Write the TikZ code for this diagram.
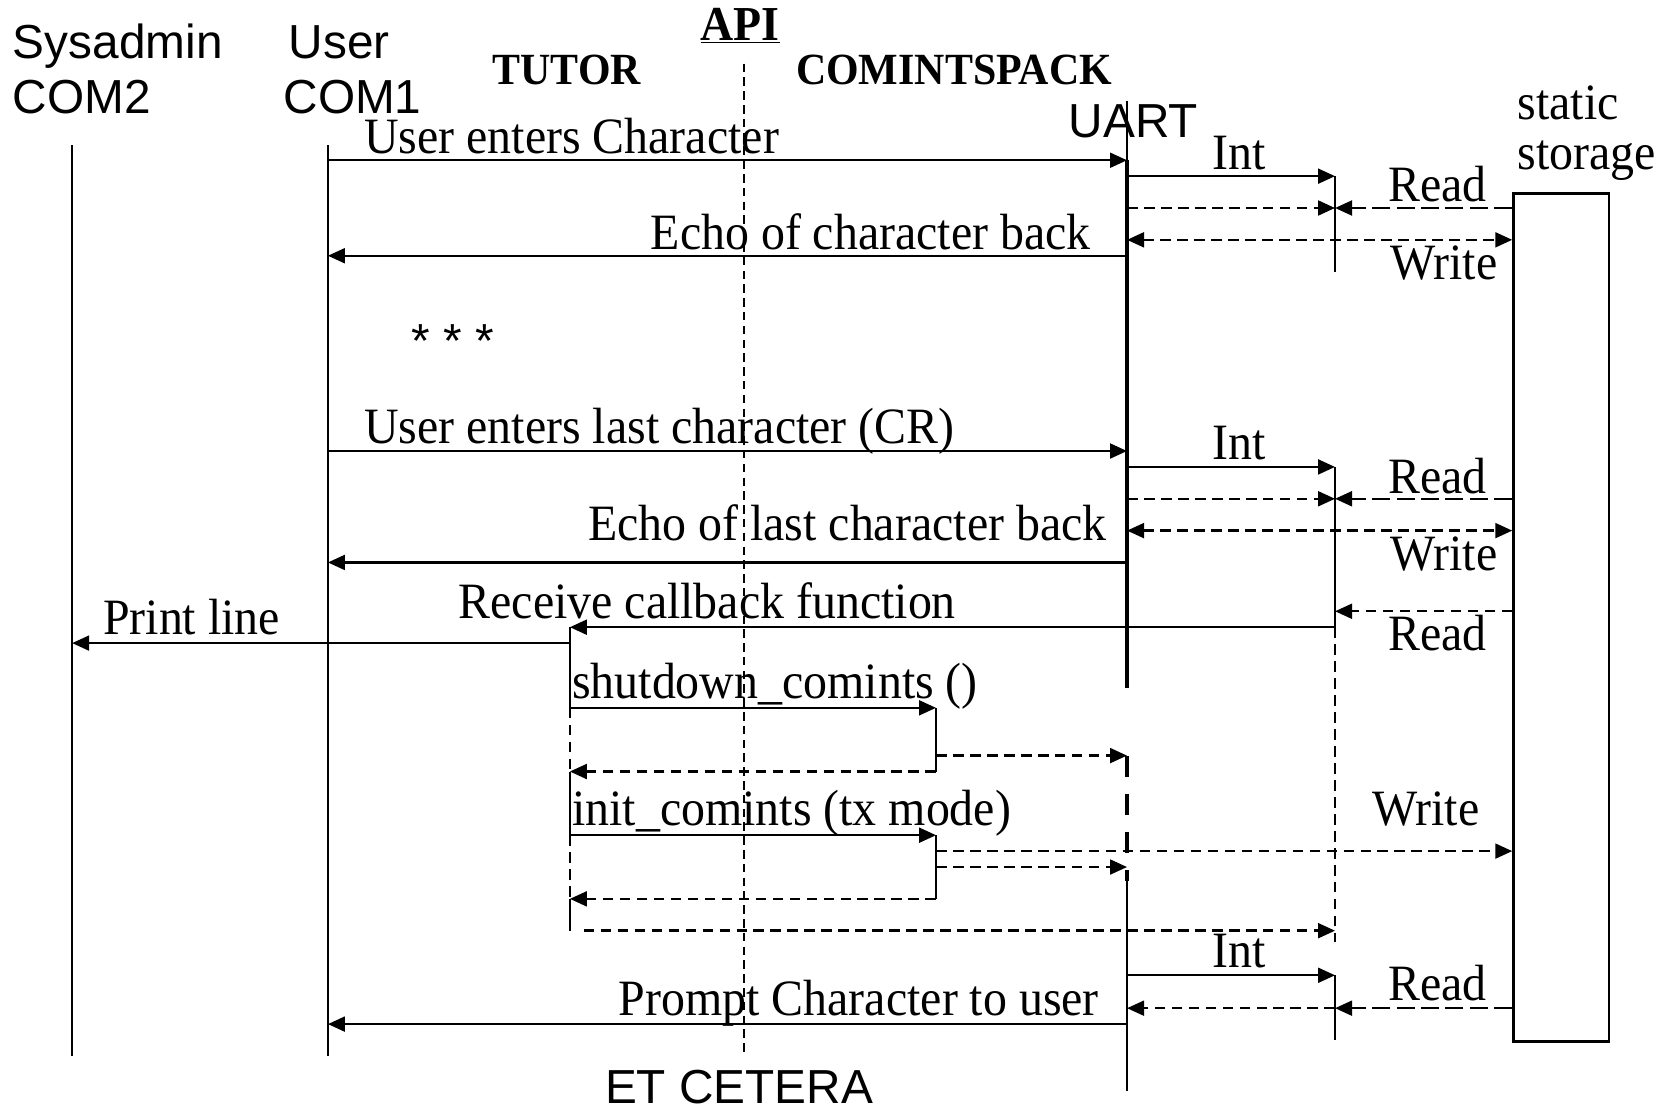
\documentclass[tikz,border=0pt]{standalone}
\usepackage{fontspec}
\setmainfont{Liberation Serif}[FakeStretch=0.94]
\setsansfont{Liberation Sans}
\usetikzlibrary{arrows.meta}

\begin{document}
\begin{tikzpicture}[x=1pt,y=-1pt,
  tip/.style={-{Triangle[length=16pt,width=14pt]}},
  msg/.style={line width=2.3pt,tip},
  ret/.style={msg,dash pattern=on 10pt off 6pt},
  rdl/.style={msg,dash pattern=on 17pt off 6pt},
  both/.style={line width=2.3pt,dash pattern=on 10pt off 6pt,
    {Triangle[length=16pt,width=14pt]}-{Triangle[length=16pt,width=14pt]}},
  life/.style={line width=2pt},
  lifed/.style={line width=2pt,dash pattern=on 10pt off 6pt},
  lbl/.style={font=\fontsize{48}{50}\selectfont,anchor=base west,inner sep=0pt},
  hd/.style={font=\sffamily\fontsize{45}{47}\selectfont,anchor=base west,inner sep=0pt},
  bhd/.style={font=\bfseries\fontsize{42}{44}\selectfont,anchor=base west,inner sep=0pt}]

\useasboundingbox (0,0) rectangle (1568,1051);

% participants
\node[hd] (hsys) at (12,55) {Sysadmin};
\node[hd] (hcom2) at (12,107) {COM2};
\node[hd] (husr) at (272,55) {User};
\node[hd] (hcom1) at (267,107) {COM1};
\node[hd] (huart) at (1007,130) {UART};
\node[bhd,font=\bfseries\fontsize{46}{48}\selectfont] (hapi) at (660,38) {\underline{API}};
\node[bhd] (htut) at (464,80) {TUTOR};
\node[bhd] (hcmp) at (750,80) {COMINTSPACK};
\node[lbl] (hsta) at (1430,113) {static};
\node[lbl] (hsto) at (1430,160) {storage};
\node[hd] (etc) at (570,1040) {ET CETERA};
\node[hd] (dots) at (388,337) {* * *};

% lifeline anchors
\coordinate (sys) at (68,137);
\coordinate (usr) at (309,137);
\coordinate (api) at (701,60);
\coordinate (uart) at (1062,95);
\coordinate (int) at (1258,166);
\coordinate (tut) at (537,591);
\coordinate (cmd) at (882,667);

% static storage
\node[draw,line width=2.4pt,anchor=north west,inner sep=0pt,
      minimum width=90pt,minimum height=799pt] (store) at (1425,181) {};

% lifelines
\draw[life] (sys) -- (sys |- 0,995);
\draw[life] (usr) -- (usr |- 0,995);
\draw[line width=1.6pt,dash pattern=on 8pt off 5pt] (api) -- (api |- 0,993);
\draw[life] (uart) -- (uart |- 0,151);
\draw[line width=4.5pt] (uart |- 0,151) -- (uart |- 0,648);
\draw[line width=4.5pt,dash pattern=on 20pt off 16pt] (uart |- 0,712) -- (uart |- 0,830);
\draw[life] (uart |- 0,830) -- (uart |- 0,1028);
\draw[life] (int) -- (int |- 0,256);
\draw[life] (int |- 0,440) -- (int |- 0,591);
\draw[lifed] (int |- 0,591) -- (int |- 0,888);
\draw[life] (int |- 0,919) -- (int |- 0,980);
\draw[life] (tut) -- (tut |- 0,667);
\draw[lifed] (tut |- 0,667) -- (tut |- 0,727);
\draw[life] (tut |- 0,727) -- (tut |- 0,787);
\draw[lifed] (tut |- 0,787) -- (tut |- 0,847);
\draw[life] (tut |- 0,847) -- (tut |- 0,877);
\draw[life] (cmd) -- (cmd |- 0,727);
\draw[life] (cmd |- 0,787) -- (cmd |- 0,847);

% first character
\draw[msg] (usr |- 0,151) -- (uart |- 0,151);
\node[lbl] at (343,145) {User enters Character};
\draw[msg] (uart |- 0,166) -- (int |- 0,166);
\node[lbl] at (1142,160) {Int};
\draw[ret] (uart |- 0,196) -- (int |- 0,196);
\draw[rdl] (store.west |- 0,196) -- (int |- 0,196);
\node[lbl] at (1308,190) {Read};
\draw[both] (uart |- 0,226) -- (store.west |- 0,226);
\node[lbl] at (1310,263) {Write};
\draw[msg] (uart |- 0,241) -- (usr |- 0,241);
\node[lbl] at (613,235) {Echo of character back};

% last character
\draw[msg] (usr |- 0,425) -- (uart |- 0,425);
\node[lbl] at (343,418) {User enters last character (CR)};
\draw[msg] (uart |- 0,440) -- (int |- 0,440);
\node[lbl] at (1142,433) {Int};
\draw[ret] (uart |- 0,470) -- (int |- 0,470);
\draw[rdl] (store.west |- 0,470) -- (int |- 0,470);
\node[lbl] at (1308,465) {Read};
\draw[both] (uart |- 0,500) -- (store.west |- 0,500);
\node[lbl] at (1310,538) {Write};
\draw[msg] (uart |- 0,530) -- (usr |- 0,530);
\node[lbl] at (554,509) {Echo of last character back};
\draw[ret] (store.west |- 0,576) -- (int |- 0,576);
\node[lbl] at (1308,613) {Read};
\draw[msg] (int |- 0,591) -- (tut);
\node[lbl] at (432,583) {Receive callback function};
\draw[msg] (tut |- 0,606) -- (sys |- 0,606);
\node[lbl] at (97,598) {Print line};

% reconfiguration
\draw[msg] (tut |- 0,667) -- (cmd);
\node[lbl] at (539,658) {shutdown\_comints ()};
\draw[ret] (cmd |- 0,712) -- (uart |- 0,712);
\draw[ret] (cmd |- 0,727) -- (tut |- 0,727);
\draw[msg] (tut |- 0,787) -- (cmd |- 0,787);
\node[lbl] at (539,778) {init\_comints (tx mode)};
\draw[ret] (cmd |- 0,802) -- (store.west |- 0,802);
\node[lbl] at (1293,778) {Write};
\draw[ret] (cmd |- 0,817) -- (uart |- 0,817);
\draw[ret] (cmd |- 0,847) -- (tut |- 0,847);
\draw[ret] (550,877) -- (int |- 0,877);

% prompt
\draw[msg] (uart |- 0,919) -- (int |- 0,919);
\node[lbl] at (1142,912) {Int};
\draw[rdl] (store.west |- 0,950) -- (int |- 0,950);
\draw[ret] (int |- 0,950) -- (uart |- 0,950);
\node[lbl] at (1308,943) {Read};
\draw[msg] (uart |- 0,965) -- (usr |- 0,965);
\node[lbl] at (583,957) {Prompt Character to user};
\end{tikzpicture}
\end{document}
